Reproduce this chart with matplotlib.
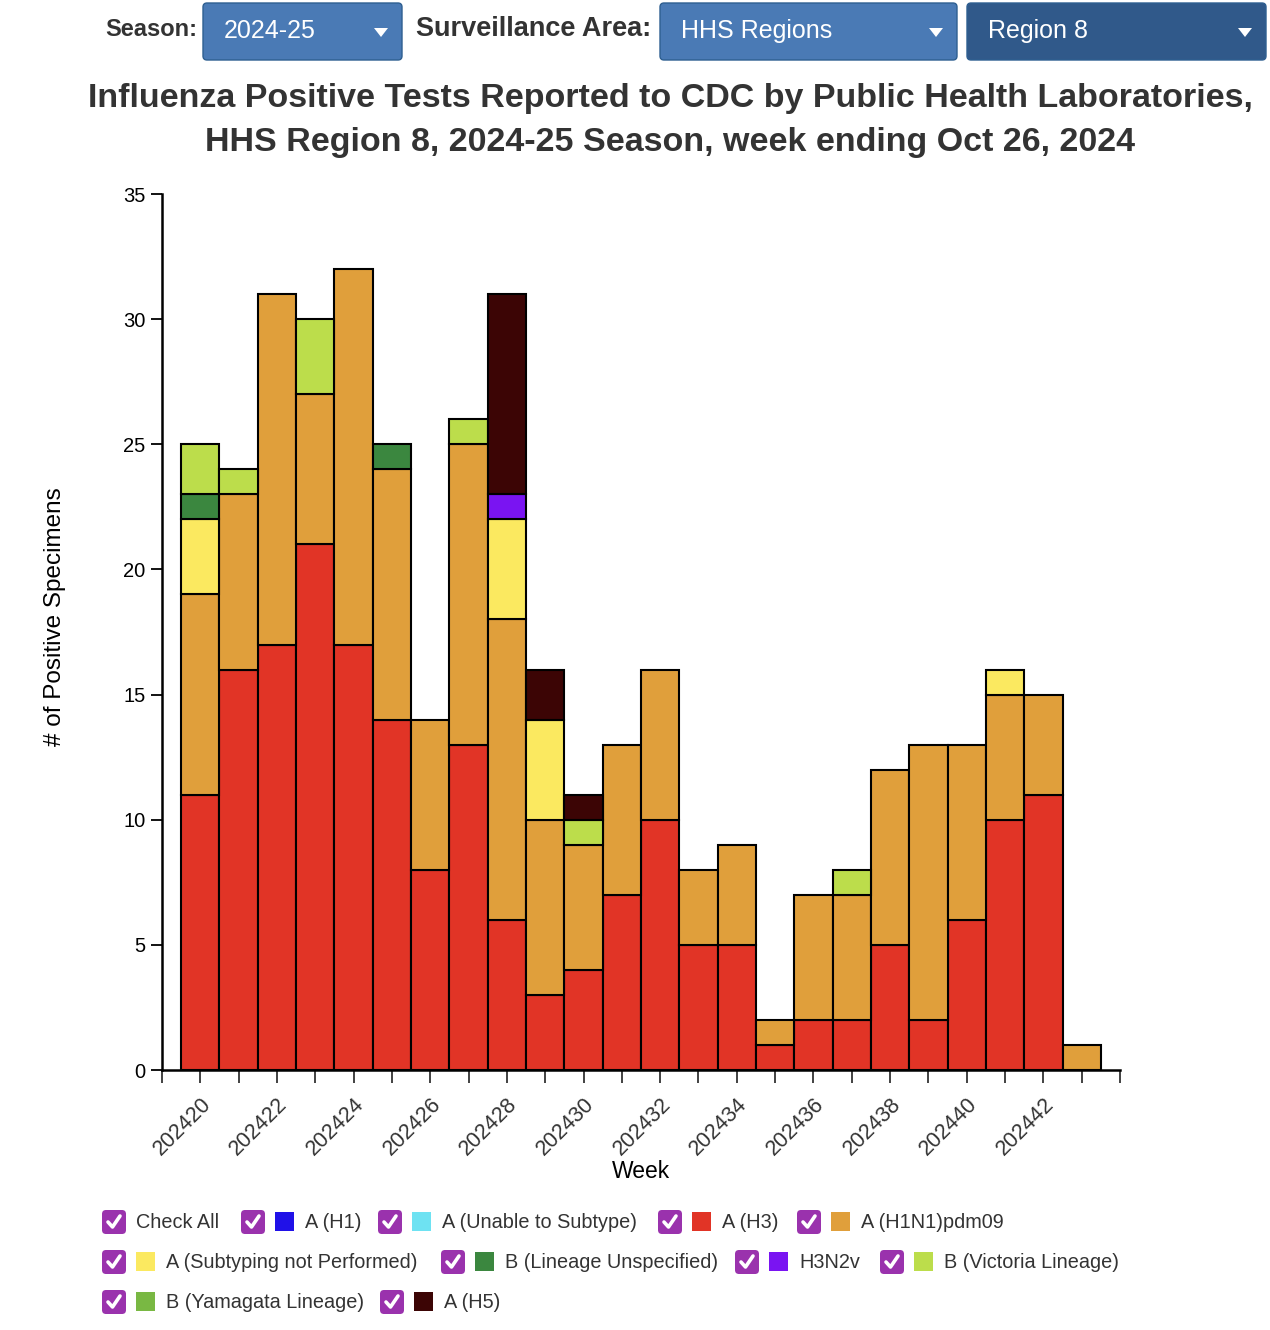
import numpy as np
import matplotlib.pyplot as plt
from matplotlib.patches import FancyBboxPatch, Rectangle, Polygon

plt.rcParams['font.family'] = ['Liberation Sans', 'DejaVu Sans']

# week labels and counts per virus type (stacked bottom to top in this order)
weeks = ['202420', '202421', '202422', '202423', '202424', '202425', '202426', '202427',
         '202428', '202429', '202430', '202431', '202432', '202433', '202434', '202435',
         '202436', '202437', '202438', '202439', '202440', '202441', '202442', '202443']
a_h1 = [0] * 24
a_unable = [0] * 24
a_h3 = [11, 16, 17, 21, 17, 14, 8, 13, 6, 3, 4, 7, 10, 5, 5, 1, 2, 2, 5, 2, 6, 10, 11, 0]
a_h1n1 = [8, 7, 14, 6, 15, 10, 6, 12, 12, 7, 5, 6, 6, 3, 4, 1, 5, 5, 7, 11, 7, 5, 4, 1]
a_snp = [3, 0, 0, 0, 0, 0, 0, 0, 4, 4, 0, 0, 0, 0, 0, 0, 0, 0, 0, 0, 0, 1, 0, 0]
b_unspec = [1, 0, 0, 0, 0, 1, 0, 0, 0, 0, 0, 0, 0, 0, 0, 0, 0, 0, 0, 0, 0, 0, 0, 0]
h3n2v = [0, 0, 0, 0, 0, 0, 0, 0, 1, 0, 0, 0, 0, 0, 0, 0, 0, 0, 0, 0, 0, 0, 0, 0]
b_vic = [2, 1, 0, 3, 0, 0, 0, 1, 0, 0, 1, 0, 0, 0, 0, 0, 0, 1, 0, 0, 0, 0, 0, 0]
b_yam = [0] * 24
a_h5 = [0, 0, 0, 0, 0, 0, 0, 0, 8, 2, 1, 0, 0, 0, 0, 0, 0, 0, 0, 0, 0, 0, 0, 0]

names = ['A (H1)', 'A (Unable to Subtype)', 'A (H3)', 'A (H1N1)pdm09',
         'A (Subtyping not Performed)', 'B (Lineage Unspecified)', 'H3N2v',
         'B (Victoria Lineage)', 'B (Yamagata Lineage)', 'A (H5)']
series = [a_h1, a_unable, a_h3, a_h1n1, a_snp, b_unspec, h3n2v, b_vic, b_yam, a_h5]
colors = ['#2011e8', '#6ee2f2', '#e13426', '#e09f3b', '#fbe960', '#3b873f',
          '#7a14f2', '#bcdd4b', '#79b843', '#3c0505']

W, H = 1270, 1330
fig = plt.figure(figsize=(W / 100, H / 100), dpi=100)
ax = fig.add_axes([162 / W, 260 / H, 958 / W, 876 / H])

x = np.arange(len(weeks))
bottom = np.zeros(len(weeks))
for vals, c in zip(series, colors):
    v = np.array(vals, dtype=float)
    m = v > 0
    if m.any():
        ax.bar(x[m], v[m], width=1.0, bottom=bottom[m], color=c,
               edgecolor='black', linewidth=1.5, zorder=2)
    bottom += v

ax.set_xlim(-1, len(weeks))
ax.set_ylim(0, 35)
ax.set_yticks(range(0, 36, 5))
ax.tick_params(axis='y', labelsize=14.5, length=8, width=1.3, pad=4, colors='black')
ticks = [-1] + list(x) + [len(weeks)]
ax.set_xticks(ticks)
ax.set_xticklabels([''] + [w if i % 2 == 0 else '' for i, w in enumerate(weeks)] + [''],
                   rotation=45, ha='right', rotation_mode='anchor', fontsize=15.5)
ax.tick_params(axis='x', length=9, width=1.3, pad=8, colors='#333333')
for s in ['top', 'right']:
    ax.spines[s].set_visible(False)
for s in ['left', 'bottom']:
    ax.spines[s].set_linewidth(1.8)

# overlay in pixel coordinates for header, labels and legend
ov = fig.add_axes([0, 0, 1, 1], zorder=-1)
ov.set_xlim(0, W)
ov.set_ylim(H, 0)
ov.axis('off')

ov.text(641, 1172, 'Week', ha='center', va='center', fontsize=16.5)
ov.text(55, 617, '# of Positive Specimens', ha='center', va='center', rotation=90, fontsize=17.5)

ov.text(670, 98, 'Influenza Positive Tests Reported to CDC by Public Health Laboratories,',
        ha='center', va='center', fontsize=24.5, fontweight='bold', color='#333333')
ov.text(670, 143, 'HHS Region 8, 2024-25 Season, week ending Oct 26, 2024',
        ha='center', va='center', fontsize=24.5, fontweight='bold', color='#333333')


def dropdown(x0, x1, label, fc):
    ov.add_patch(FancyBboxPatch((x0, 3), x1 - x0, 57, boxstyle='round,pad=0,rounding_size=4',
                                fc=fc, ec='#2e5f91', lw=1))
    ov.text(x0 + 21, 31, label, ha='left', va='center', fontsize=18, color='white')
    ov.add_patch(Polygon([(x1 - 28, 28), (x1 - 14, 28), (x1 - 21, 37)], closed=True,
                         fc='white', ec='none'))


ov.text(197, 30, 'Season:', ha='right', va='center', fontsize=17, fontweight='bold', color='#333333')
dropdown(203, 402, '2024-25', '#4a7ab5')
ov.text(651, 29, 'Surveillance Area:', ha='right', va='center', fontsize=19.5,
        fontweight='bold', color='#333333')
dropdown(660, 957, 'HHS Regions', '#4a7ab5')
dropdown(967, 1266, 'Region 8', '#30598a')


def checkbox(cx, cy):
    ov.add_patch(FancyBboxPatch((cx, cy - 12), 24, 24, boxstyle='round,pad=0,rounding_size=4',
                                fc='#9a32ad', ec='none'))
    ov.plot([cx + 6, cx + 10.5, cx + 18], [cy, cy + 5, cy - 6], color='white', lw=2.6,
            solid_capstyle='round', solid_joinstyle='round')


legend_rows = [
    [(102, None, 'Check All'), (241, 0, None), (378, 1, None), (658, 2, None), (797, 3, None)],
    [(102, 4, None), (441, 5, None), (735, 6, None), (880, 7, None)],
    [(102, 8, None), (380, 9, None)],
]
row_y = [1222, 1262, 1302]
for ry, row in zip(row_y, legend_rows):
    for cx, idx, txt in row:
        checkbox(cx, ry)
        if idx is None:
            ov.text(cx + 34, ry + 1, txt, ha='left', va='center', fontsize=14.3, color='#333333')
        else:
            ov.add_patch(Rectangle((cx + 34, ry - 10), 19, 19, fc=colors[idx], ec='none'))
            ov.text(cx + 64, ry + 1, names[idx], ha='left', va='center', fontsize=14.3,
                    color='#333333')

fig.savefig('out.png', dpi=100)
